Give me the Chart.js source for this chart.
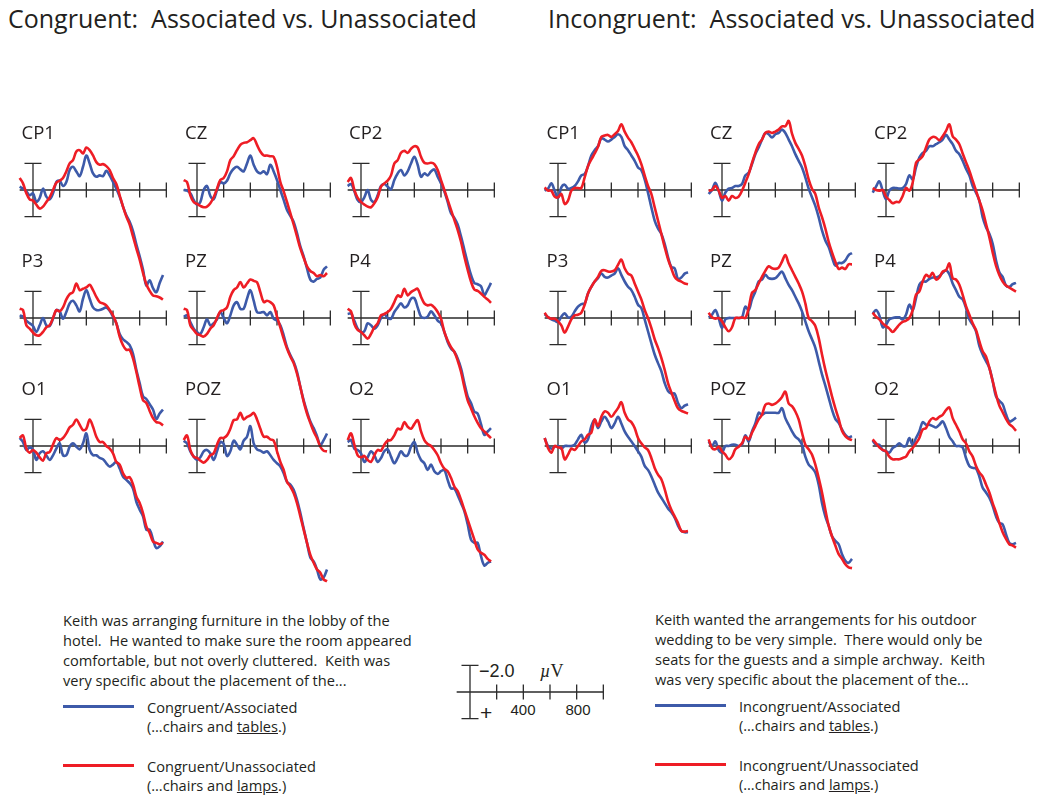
<!DOCTYPE html>
<html>
<head>
<meta charset="utf-8">
<script src="https://cdn.jsdelivr.net/npm/chart.js@4.4.0/dist/chart.umd.min.js"></script>
<style>
  body { margin: 0; width: 1050px; height: 800px; position: relative; overflow: hidden; background: #fff; color: #231f20; font-family: "Open Sans", sans-serif; }
  .abs { position: absolute; white-space: pre; line-height: 1; }
  .title { font-size: 25px; top: 6px; }
  .lbl { font-size: 18.5px; }
  .para { font-size: 14.6px; line-height: 20px; }
  .leg { font-size: 14.6px; line-height: 19px; }
  .legline { position: absolute; height: 3px; width: 71px; }
  canvas { position: absolute; }
  .sb { font-family: "Liberation Sans", sans-serif; }
</style>
</head>
<body>
<div class="abs title" style="left:8px">Congruent:  Associated vs. Unassociated</div>
<div class="abs title" style="left:548px">Incongruent:  Associated vs. Unassociated</div>

<div class="abs para" style="left:63px; top:610px">Keith was arranging furniture in the lobby of the
hotel.  He wanted to make sure the room appeared
comfortable, but not overly cluttered.  Keith was
very specific about the placement of the...</div>
<div class="abs para" style="left:655px; top:609px">Keith wanted the arrangements for his outdoor
wedding to be very simple.  There would only be
seats for the guests and a simple archway.  Keith
was very specific about the placement of the...</div>

<div class="legline" style="left:63px; top:705px; background:#3d5aa9"></div>
<div class="legline" style="left:63px; top:764px; background:#ee1d25"></div>
<div class="abs leg" style="left:147px; top:698px">Congruent/Associated
(…chairs and <u>tables</u>.)</div>
<div class="abs leg" style="left:147px; top:757px">Congruent/Unassociated
(…chairs and <u>lamps</u>.)</div>

<div class="legline" style="left:655px; top:704px; background:#3d5aa9"></div>
<div class="legline" style="left:655px; top:763px; background:#ee1d25"></div>
<div class="abs leg" style="left:739px; top:697px">Incongruent/Associated
(…chairs and <u>tables</u>.)</div>
<div class="abs leg" style="left:739px; top:756px">Incongruent/Unassociated
(…chairs and <u>lamps</u>.)</div>

<div class="abs sb" style="left:479px; top:662px; font-size:18px">−2.0</div>
<div class="abs" style="left:540px; top:662px; font-size:18px; font-family:'Liberation Serif', serif"><i>µ</i>V</div>
<div class="abs sb" style="left:480px; top:702px; font-size:21px">+</div>
<div class="abs sb" style="left:503px; top:702px; width:40px; text-align:center; font-size:15px">400</div>
<div class="abs sb" style="left:558px; top:702px; width:40px; text-align:center; font-size:15px">800</div>

<script>
// time points (ms) shared by every waveform
const times = [-100, -75, -50, -25,
  0, 25, 50, 75, 100, 125, 150, 175, 200, 225,
  250, 275, 300, 325, 350, 375, 400, 425, 450, 475,
  500, 525, 550, 575, 600, 625, 650, 675, 700, 725,
  750, 775, 800, 825, 850, 875, 900, 925, 950, 975];

// axis furniture (ms / µV)
const axisStart = -100, axisEnd = 1000;
const tickTimes = [200, 400, 600, 800, 1000];
const calib = [-2, 2];

// ---- Congruent (µV, negative plotted up) ----
const congCP1Assoc = [-0.25, -0.1, 0.1, 0.4, 0.25, 0.9, 0.6, -0.1, 0.5, 0.7, 0.25, -0.6, -0.7, -0.3, -0.6, -1.5, -1.75, -1.4, -1.05, -1.75, -2.6, -2.0, -1.25, -1.0, -1.1, -1.05, -1.45, -1.1, -0.6, -0.1, 0.5, 1.25, 1.9, 2.4, 3.1, 4.1, 5.0, 6.0, 7.2, 6.8, 7.4, 7.7, 7.0, 6.4];
const congCP1Unassoc = [-0.9, -0.5, 0.25, 0.7, 0.8, 1.1, 1.4, 1.25, 0.9, 0.55, 0.0, -0.55, -0.7, -0.9, -1.4, -2.0, -2.25, -2.9, -3.0, -2.75, -3.2, -3.0, -2.6, -2.1, -1.9, -1.95, -1.8, -1.5, -0.9, -0.45, 0.4, 1.25, 2.0, 2.6, 3.5, 4.4, 5.25, 6.25, 7.1, 7.6, 7.95, 8.0, 8.1, 8.25];
const congCZAssoc = [0.0, 0.05, 0.25, 0.75, 1.1, 0.9, 0.0, -0.3, 0.45, 0.7, 0.0, -0.6, -0.5, -0.7, -1.25, -1.6, -1.75, -1.55, -1.4, -2.0, -2.6, -1.9, -1.4, -1.25, -1.4, -1.2, -1.9, -1.4, -0.75, 0.0, 0.75, 1.5, 1.95, 2.4, 3.25, 4.25, 5.0, 5.9, 6.75, 6.9, 6.7, 6.6, 6.0, 5.75];
const congCZUnassoc = [-0.75, -0.6, 0.4, 0.9, 1.05, 1.2, 1.3, 1.25, 1.0, 0.55, -0.1, -0.75, -0.9, -1.4, -2.25, -2.55, -3.0, -3.4, -3.55, -3.6, -3.75, -3.9, -3.4, -2.9, -2.6, -2.6, -2.55, -2.5, -1.75, -0.6, 0.1, 0.9, 1.75, 2.6, 3.5, 4.4, 5.1, 5.75, 6.1, 6.25, 6.5, 6.4, 6.5, 6.25];
const congCP2Assoc = [-0.3, -0.45, 0.1, 0.75, 0.9, 0.55, 0.0, 0.75, 0.9, 0.4, -0.3, -0.45, -0.25, -0.05, -0.75, -1.25, -1.5, -1.1, -1.4, -2.0, -2.5, -1.9, -1.0, -1.25, -1.1, -1.4, -1.55, -1.0, -0.5, 0.1, 0.9, 1.75, 2.1, 2.6, 3.5, 4.5, 5.5, 6.4, 7.0, 7.1, 7.25, 7.9, 7.5, 7.0];
const congCP2Unassoc = [-0.6, -0.9, 0.0, 0.6, 0.9, 1.1, 1.25, 1.3, 1.0, 0.55, -0.25, -0.5, -0.7, -1.1, -2.0, -2.25, -2.8, -2.95, -2.8, -3.1, -3.3, -3.2, -2.5, -2.05, -2.0, -2.05, -1.95, -1.5, -0.75, 0.0, 0.75, 1.5, 2.25, 3.0, 3.9, 5.0, 6.0, 6.9, 7.5, 7.6, 7.8, 8.05, 8.25, 8.5];
const congP3Assoc = [-0.2, -0.1, 0.2, 0.4, 0.6, 1.05, 0.55, 0.0, 0.55, 0.6, 0.05, -0.6, -0.5, 0.05, -0.45, -1.1, -1.3, -0.95, -0.5, -1.45, -2.1, -1.45, -0.8, -0.6, -0.6, -0.7, -0.8, -0.55, -0.1, 0.4, 1.2, 1.6, 1.8, 2.05, 2.7, 3.9, 4.9, 5.9, 6.1, 6.5, 6.9, 7.6, 7.2, 6.9];
const congP3Unassoc = [-0.7, -0.6, 0.55, 0.8, 1.1, 1.3, 1.3, 1.05, 0.7, 0.55, 0.0, -0.6, -0.5, -0.8, -1.4, -1.8, -1.95, -2.6, -2.1, -2.2, -2.3, -2.5, -2.1, -1.6, -1.2, -1.1, -0.95, -0.6, -0.2, 0.4, 1.4, 2.05, 2.4, 2.4, 3.05, 4.05, 5.2, 6.2, 6.4, 7.0, 7.55, 7.85, 7.9, 8.1];
const congPZAssoc = [-0.1, -0.2, 0.3, 0.8, 1.05, 1.2, 0.7, 0.1, 0.55, 0.4, 0.1, -0.45, 0.0, 0.4, -0.2, -0.95, -1.2, -0.7, -0.7, -1.45, -2.1, -1.3, -0.45, -0.4, -0.45, -0.2, -0.45, 0.05, 0.2, 0.55, 1.3, 2.2, 2.8, 3.3, 4.05, 5.2, 6.2, 7.05, 7.8, 8.3, 8.9, 9.55, 9.2, 8.7];
const congPZUnassoc = [-0.7, -0.6, 0.55, 0.9, 1.2, 1.3, 1.4, 1.2, 0.8, 0.55, 0.0, -0.5, -0.6, -0.8, -1.6, -2.1, -2.3, -2.7, -2.3, -2.6, -2.9, -2.8, -2.7, -1.95, -1.2, -1.3, -1.2, -0.95, -0.1, 0.7, 1.55, 2.3, 2.9, 3.4, 4.2, 5.2, 6.3, 7.2, 7.9, 8.55, 9.05, 9.7, 10.0, 10.05];
const congP4Assoc = [-0.3, -0.35, 0.2, 0.8, 1.05, 1.0, 0.4, 0.55, 0.8, 0.55, 0.0, -0.3, 0.0, 0.05, -0.45, -0.8, -1.1, -0.8, -0.95, -1.45, -1.5, -0.8, -0.1, 0.0, -0.1, -0.5, -0.2, 0.2, 0.4, 1.05, 1.8, 2.3, 2.55, 3.05, 3.8, 4.9, 5.9, 6.4, 7.05, 7.2, 8.0, 8.8, 8.55, 8.3];
const congP4Unassoc = [-0.7, -0.5, 0.45, 0.9, 1.05, 1.3, 1.55, 1.2, 0.7, 0.4, -0.2, -0.3, -0.45, -0.7, -1.2, -1.7, -1.6, -2.2, -1.7, -1.95, -2.1, -2.2, -1.6, -1.1, -0.95, -1.0, -0.8, -0.45, 0.05, 1.05, 1.7, 2.2, 2.55, 3.2, 4.05, 5.2, 6.2, 6.8, 7.4, 7.9, 8.3, 8.55, 8.8, 9.05];
const congO1Assoc = [-0.6, -0.3, 0.3, 0.1, 0.3, 1.05, 0.55, 0.4, 0.7, 1.05, 0.7, 0.2, -0.2, 0.7, 0.7, 0.05, -0.2, 0.05, 0.25, -0.2, -0.95, 0.3, 0.7, 0.7, 0.9, 1.0, 1.3, 1.55, 1.4, 1.2, 1.7, 2.3, 2.55, 2.8, 3.2, 4.2, 4.8, 5.3, 6.3, 6.3, 7.05, 7.7, 7.55, 7.2];
const congO1Unassoc = [-0.6, -0.8, 0.2, 0.5, 0.3, 0.5, 0.85, 1.1, 0.55, 0.45, -0.1, -0.6, -0.45, -0.6, -0.95, -1.4, -1.6, -2.0, -1.6, -1.2, -1.3, -2.0, -1.45, -0.7, -0.3, -0.3, 0.0, 0.2, 0.55, 1.2, 1.4, 2.05, 2.4, 2.35, 2.9, 3.8, 4.3, 5.05, 6.05, 6.55, 7.2, 7.3, 7.4, 7.3];
const congPOZAssoc = [-0.4, -0.2, 0.4, 0.8, 1.05, 0.85, 0.4, 0.3, 0.55, 1.05, 0.4, -0.3, -0.15, 0.75, 0.4, -0.4, -0.1, 0.25, -0.4, -0.7, -1.5, -0.2, 0.25, 0.35, 0.5, 0.4, 0.7, 1.05, 1.3, 1.55, 2.05, 2.7, 2.9, 3.3, 4.05, 5.05, 6.2, 7.3, 8.4, 8.7, 9.3, 10.05, 9.9, 9.3];
const congPOZUnassoc = [-0.45, -0.8, 0.3, 0.8, 0.9, 1.1, 1.25, 1.05, 0.7, 0.55, -0.1, -0.6, -0.6, -0.8, -1.3, -1.95, -2.0, -2.5, -2.0, -2.2, -2.3, -2.5, -2.0, -1.3, -0.7, -0.7, -0.5, -0.4, 0.4, 1.2, 1.8, 2.7, 3.05, 3.55, 4.3, 5.3, 6.3, 7.3, 8.2, 8.8, 9.3, 9.55, 10.05, 10.2];
const congO2Assoc = [-0.3, -0.45, 0.2, 0.3, 0.55, 1.2, 0.85, 0.4, 0.7, 1.2, 0.9, 0.4, 0.25, 0.8, 1.3, 0.9, 0.4, 0.7, 0.7, 0.05, -0.3, 0.5, 1.05, 1.3, 1.8, 1.4, 1.9, 2.1, 1.9, 1.8, 2.55, 3.2, 3.2, 3.7, 4.3, 4.9, 5.9, 7.05, 7.3, 7.3, 8.3, 9.0, 8.8, 8.7];
const congO2Unassoc = [-0.45, -0.95, -0.1, 0.7, 0.85, 0.75, 1.05, 1.2, 0.7, 0.3, 0.35, -0.1, -0.4, -0.45, -0.8, -1.3, -1.25, -1.8, -1.45, -1.3, -1.65, -1.95, -1.1, -0.45, -0.15, 0.0, 0.3, 0.7, 1.3, 1.7, 1.9, 2.4, 3.05, 3.4, 4.05, 4.8, 5.55, 6.3, 7.05, 7.8, 8.05, 8.2, 8.5, 8.7];

// ---- Incongruent ----
const incoCP1Assoc = [0.05, -0.1, -0.5, 0.05, 0.6, -0.2, -0.4, -0.1, -0.15, -0.3, -0.65, -1.1, -1.2, -1.8, -2.6, -3.0, -3.3, -3.9, -3.8, -3.65, -3.8, -4.0, -4.2, -4.0, -3.3, -3.0, -2.6, -2.2, -1.7, -1.5, -0.8, 0.2, 1.3, 2.3, 2.9, 3.3, 4.05, 5.05, 5.8, 5.9, 6.7, 6.6, 6.3, 6.2];
const incoCP1Unassoc = [-0.2, 0.05, 0.05, 0.5, 0.55, 0.3, 1.05, 0.8, 0.05, -0.15, -0.15, -0.15, -0.95, -1.8, -2.3, -2.75, -3.25, -4.0, -4.1, -4.15, -4.0, -4.2, -4.45, -4.95, -4.4, -3.95, -3.6, -3.1, -2.6, -1.95, -1.1, -0.3, 0.3, 1.3, 2.3, 3.3, 4.3, 5.2, 5.9, 6.55, 6.8, 6.9, 7.05, 7.1];
const incoCZAssoc = [0.3, 0.0, -0.55, 0.05, 0.8, 0.2, -0.1, -0.15, -0.3, -0.3, -0.45, -1.1, -1.3, -1.95, -2.7, -3.2, -3.8, -4.3, -4.2, -3.95, -4.2, -4.3, -4.55, -4.3, -3.8, -3.3, -2.7, -2.2, -1.7, -0.95, -0.1, 0.55, 1.2, 2.05, 3.05, 3.8, 4.3, 5.05, 5.7, 5.5, 5.5, 5.3, 4.9, 4.75];
const incoCZUnassoc = [0.05, 0.0, -0.3, 0.05, 0.6, 0.45, 0.8, 0.45, 0.6, 0.5, 0.05, -0.55, -1.2, -2.05, -2.8, -3.45, -3.8, -4.3, -4.4, -4.3, -4.4, -4.55, -4.8, -4.8, -5.2, -4.25, -3.55, -3.1, -2.6, -1.8, -0.8, -0.1, 0.3, 1.3, 2.05, 2.9, 3.9, 4.7, 5.4, 5.95, 5.85, 5.95, 5.6, 5.6];
const incoCP2Assoc = [0.2, -0.25, -0.65, 0.05, 0.7, 0.05, -0.15, -0.15, -0.1, -0.15, -0.45, -1.1, -0.8, -1.7, -2.45, -2.8, -2.95, -3.3, -3.3, -3.45, -3.6, -3.8, -4.15, -3.8, -3.45, -2.95, -2.7, -2.2, -1.6, -1.1, -0.3, 0.2, 0.8, 2.05, 2.8, 3.3, 4.05, 5.3, 6.2, 6.55, 7.2, 7.3, 7.1, 7.0];
const incoCP2Unassoc = [-0.15, 0.0, 0.05, 0.0, 0.5, 0.75, 1.0, 0.9, 0.9, 0.45, -0.15, 0.05, -0.55, -2.05, -2.3, -2.55, -3.2, -3.8, -4.0, -3.95, -3.75, -4.05, -4.45, -4.95, -4.05, -3.8, -3.45, -2.75, -2.1, -1.45, -0.7, 0.05, 0.8, 1.55, 2.55, 3.55, 4.7, 5.7, 6.4, 6.9, 7.2, 7.35, 7.5, 7.65];
const incoP3Assoc = [-0.3, -0.05, 0.1, 0.2, 0.3, -0.1, -0.35, -0.05, -0.1, -0.5, -0.85, -1.05, -1.1, -1.85, -2.35, -2.75, -3.0, -3.35, -3.1, -3.05, -3.2, -3.35, -3.75, -3.25, -2.75, -2.35, -2.1, -1.6, -1.0, -0.75, 0.1, 1.0, 1.9, 2.75, 3.4, 4.0, 4.9, 5.5, 5.7, 5.7, 6.4, 6.8, 6.6, 6.5];
const incoP3Unassoc = [-0.4, -0.05, 0.05, 0.05, 0.25, 0.55, 1.1, 0.65, 0.1, -0.2, -0.25, -0.4, -1.0, -1.85, -2.35, -2.75, -3.1, -3.55, -3.6, -3.5, -3.5, -3.6, -4.0, -4.4, -3.75, -3.35, -3.2, -2.6, -2.0, -1.4, -0.6, 0.0, 0.75, 1.6, 2.25, 3.0, 3.9, 4.9, 5.6, 6.25, 6.8, 7.0, 7.1, 7.2];
const incoPZAssoc = [-0.05, -0.25, -0.6, 0.0, 0.75, 0.1, 0.0, 0.0, 0.0, 0.0, -0.05, -0.85, -0.6, -1.4, -2.0, -2.75, -2.9, -3.25, -3.0, -2.95, -3.0, -3.25, -3.5, -3.0, -2.5, -2.1, -1.6, -1.1, -0.5, 0.25, 1.0, 1.6, 2.25, 3.25, 4.25, 5.1, 6.0, 6.9, 7.6, 7.9, 8.4, 8.8, 9.0, 8.9];
const incoPZUnassoc = [-0.4, -0.05, 0.05, 0.0, 0.25, 0.7, 1.0, 0.7, 0.0, 0.0, -0.05, 0.0, -0.75, -1.9, -2.1, -2.6, -3.1, -3.55, -3.9, -3.75, -3.7, -3.8, -4.25, -4.75, -4.1, -3.6, -3.1, -2.6, -2.0, -1.1, 0.0, 0.25, 0.6, 1.5, 2.75, 3.9, 4.9, 5.9, 6.8, 7.6, 8.5, 8.9, 9.1, 9.2];
const incoP4Assoc = [-0.3, -0.6, -0.2, 0.7, 0.5, 0.1, 0.0, -0.05, -0.05, 0.1, -0.25, -1.0, -0.6, -1.5, -2.5, -2.75, -2.75, -2.95, -3.05, -3.05, -3.15, -3.4, -3.6, -3.3, -2.6, -2.1, -1.6, -1.4, -0.75, 0.1, 0.5, 1.0, 2.1, 2.75, 3.25, 3.75, 4.75, 5.9, 6.25, 6.5, 7.25, 7.8, 7.7, 7.5];
const incoP4Unassoc = [-0.4, -0.1, 0.1, 0.4, 0.6, 0.8, 1.05, 0.8, 0.5, 0.3, 0.2, 0.0, -0.6, -1.75, -2.0, -2.75, -3.25, -3.1, -3.4, -2.9, -3.05, -3.5, -3.6, -4.1, -3.0, -2.9, -2.5, -1.75, -0.9, -0.25, 0.4, 0.9, 1.75, 2.5, 2.9, 3.75, 4.75, 5.75, 6.6, 7.1, 7.6, 8.0, 8.2, 8.5];
const incoO1Assoc = [-0.6, 0.0, 0.2, 0.05, 0.0, 0.2, 0.0, 0.0, 0.0, -0.1, -0.5, -0.85, -0.25, -0.5, -1.5, -2.0, -1.35, -1.85, -2.2, -1.85, -1.35, -1.7, -2.2, -1.7, -1.1, -0.7, -0.35, 0.0, 0.4, 0.8, 1.5, 1.8, 2.3, 2.9, 3.5, 3.9, 4.3, 4.7, 5.0, 5.4, 6.0, 6.4, 6.5, 6.5];
const incoO1Unassoc = [-0.6, 0.15, 0.5, 0.0, 0.1, 0.15, 1.0, 0.65, 0.2, 0.3, 0.0, -0.35, -0.5, -0.85, -1.0, -2.0, -1.5, -2.2, -2.6, -2.5, -2.2, -2.5, -2.85, -3.3, -2.5, -2.0, -1.8, -1.35, -0.6, -0.2, 0.1, 0.3, 0.9, 1.65, 2.15, 2.5, 3.25, 4.15, 4.8, 5.3, 5.8, 6.4, 6.45, 6.4];
const incoPOZAssoc = [-0.35, 0.0, -0.35, 0.3, 0.5, 0.0, 0.0, -0.1, -0.1, 0.0, -0.1, -0.8, -0.35, -1.1, -1.7, -2.5, -2.35, -2.5, -2.5, -2.5, -2.5, -2.5, -2.85, -2.1, -1.6, -1.1, -0.7, -0.5, -0.1, 0.8, 1.4, 1.65, 2.0, 2.9, 4.3, 5.3, 6.0, 6.8, 7.15, 7.4, 8.15, 8.65, 8.8, 8.5];
const incoPOZUnassoc = [-0.5, 0.15, 0.25, 0.05, 0.4, 0.65, 1.0, 0.8, 0.25, 0.05, -0.2, -0.7, -0.5, -1.0, -1.5, -2.0, -2.35, -3.1, -3.2, -3.1, -3.2, -3.4, -3.7, -4.1, -3.2, -3.0, -2.6, -2.0, -1.0, -0.1, 0.25, 0.65, 1.4, 2.4, 3.5, 4.8, 6.0, 6.8, 7.5, 8.15, 8.5, 8.9, 9.15, 9.2];
const incoO2Assoc = [-0.4, -0.1, -0.1, 0.3, 0.4, 0.5, 0.15, 0.0, -0.2, 0.0, 0.0, -0.6, -0.1, -0.6, -1.1, -1.8, -1.6, -1.6, -1.5, -1.4, -1.6, -1.85, -1.35, -0.7, -0.35, 0.0, 0.0, 0.1, 0.9, 1.5, 1.65, 1.7, 2.3, 3.15, 3.5, 3.9, 4.5, 5.3, 5.8, 5.9, 6.65, 7.3, 7.4, 7.3];
const incoO2Unassoc = [-0.5, -0.2, 0.1, 0.3, 0.4, 0.8, 1.0, 1.0, 1.0, 0.9, 0.8, 0.4, 0.15, -0.2, -0.6, -1.25, -1.35, -1.85, -2.1, -2.0, -2.2, -2.35, -2.7, -2.9, -2.1, -1.6, -1.1, -0.5, -0.2, 0.4, 0.8, 1.5, 2.0, 2.3, 2.9, 3.5, 4.3, 5.0, 5.8, 6.5, 7.0, 7.4, 7.5, 7.65];

const BLUE = '#3d5aa9';
const RED = '#ee1d25';

// scale geometry: 200 ms and 2 µV are both ~26.7 px
const PX_PER_MS = 26.7 / 200;
const PX_PER_UV = 13.3;
const X_MIN = -120, X_MAX = 1020;
const Y_MIN = -5.5, Y_MAX = 11;

const colX = [33.5, 197, 361, 558.5, 722, 886];
const rowY = [190, 318, 446];

const panels = [
  { label: 'CP1', col: 0, row: 0, a: congCP1Assoc, u: congCP1Unassoc },
  { label: 'CZ', col: 1, row: 0, a: congCZAssoc, u: congCZUnassoc },
  { label: 'CP2', col: 2, row: 0, a: congCP2Assoc, u: congCP2Unassoc },
  { label: 'P3', col: 0, row: 1, a: congP3Assoc, u: congP3Unassoc },
  { label: 'PZ', col: 1, row: 1, a: congPZAssoc, u: congPZUnassoc },
  { label: 'P4', col: 2, row: 1, a: congP4Assoc, u: congP4Unassoc },
  { label: 'O1', col: 0, row: 2, a: congO1Assoc, u: congO1Unassoc },
  { label: 'POZ', col: 1, row: 2, a: congPOZAssoc, u: congPOZUnassoc },
  { label: 'O2', col: 2, row: 2, a: congO2Assoc, u: congO2Unassoc },
  { label: 'CP1', col: 3, row: 0, a: incoCP1Assoc, u: incoCP1Unassoc },
  { label: 'CZ', col: 4, row: 0, a: incoCZAssoc, u: incoCZUnassoc },
  { label: 'CP2', col: 5, row: 0, a: incoCP2Assoc, u: incoCP2Unassoc },
  { label: 'P3', col: 3, row: 1, a: incoP3Assoc, u: incoP3Unassoc },
  { label: 'PZ', col: 4, row: 1, a: incoPZAssoc, u: incoPZUnassoc },
  { label: 'P4', col: 5, row: 1, a: incoP4Assoc, u: incoP4Unassoc },
  { label: 'O1', col: 3, row: 2, a: incoO1Assoc, u: incoO1Unassoc },
  { label: 'POZ', col: 4, row: 2, a: incoPOZAssoc, u: incoPOZUnassoc },
  { label: 'O2', col: 5, row: 2, a: incoO2Assoc, u: incoO2Unassoc }
];

// draws the baseline with its ticks and the ±2 µV calibration bar
const axisCross = {
  id: 'axisCross',
  beforeDatasetsDraw(chart) {
    const { ctx, scales: { x, y } } = chart;
    const x0 = x.getPixelForValue(0);
    const y0 = y.getPixelForValue(0);
    const yTop = y.getPixelForValue(calib[0]);
    const yBot = y.getPixelForValue(calib[1]);
    ctx.save();
    ctx.strokeStyle = '#2b2b2b';
    ctx.lineWidth = 1.3;
    ctx.beginPath();
    ctx.moveTo(x.getPixelForValue(axisStart), y0);
    ctx.lineTo(x.getPixelForValue(axisEnd), y0);
    tickTimes.forEach(t => {
      const px = x.getPixelForValue(t);
      ctx.moveTo(px, y0 - 7.5);
      ctx.lineTo(px, y0 + 7.5);
    });
    ctx.moveTo(x0, yTop);
    ctx.lineTo(x0, yBot);
    ctx.moveTo(x0 - 8.5, yTop);
    ctx.lineTo(x0 + 8.5, yTop);
    ctx.moveTo(x0 - 8.5, yBot);
    ctx.lineTo(x0 + 8.5, yBot);
    ctx.stroke();
    ctx.restore();
  }
};

function makeChart(x0, y0, datasets) {
  const canvas = document.createElement('canvas');
  const w = Math.round((X_MAX - X_MIN) * PX_PER_MS);
  const h = Math.round((Y_MAX - Y_MIN) * PX_PER_UV);
  canvas.width = w;
  canvas.height = h;
  canvas.style.left = (x0 + X_MIN * PX_PER_MS) + 'px';
  canvas.style.top = (y0 + Y_MIN * PX_PER_UV) + 'px';
  document.body.appendChild(canvas);
  return new Chart(canvas, {
    type: 'line',
    data: { datasets },
    options: {
      responsive: false,
      animation: false,
      devicePixelRatio: 1,
      layout: { padding: 0 },
      elements: {
        point: { radius: 0 },
        line: { borderWidth: 2.6, tension: 0.35 }
      },
      scales: {
        x: { type: 'linear', min: X_MIN, max: X_MAX, display: false },
        y: { type: 'linear', min: Y_MIN, max: Y_MAX, reverse: true, display: false }
      },
      plugins: { legend: { display: false }, tooltip: { enabled: false } }
    },
    plugins: [axisCross]
  });
}

const toXY = vals => vals.map((v, i) => ({ x: times[i], y: v }));

panels.forEach(p => {
  const x0 = colX[p.col], y0 = rowY[p.row];
  makeChart(x0, y0, [
    { data: toXY(p.a), borderColor: BLUE, clip: false, order: 1 },
    { data: toXY(p.u), borderColor: RED, clip: false, order: 0 }
  ]);
  const lbl = document.createElement('div');
  lbl.className = 'abs lbl';
  lbl.textContent = p.label;
  lbl.style.left = (x0 - 12) + 'px';
  lbl.style.top = (y0 - 67) + 'px';
  document.body.appendChild(lbl);
});

// calibration / scale key
makeChart(470, 692, []);
</script>
</body>
</html>
